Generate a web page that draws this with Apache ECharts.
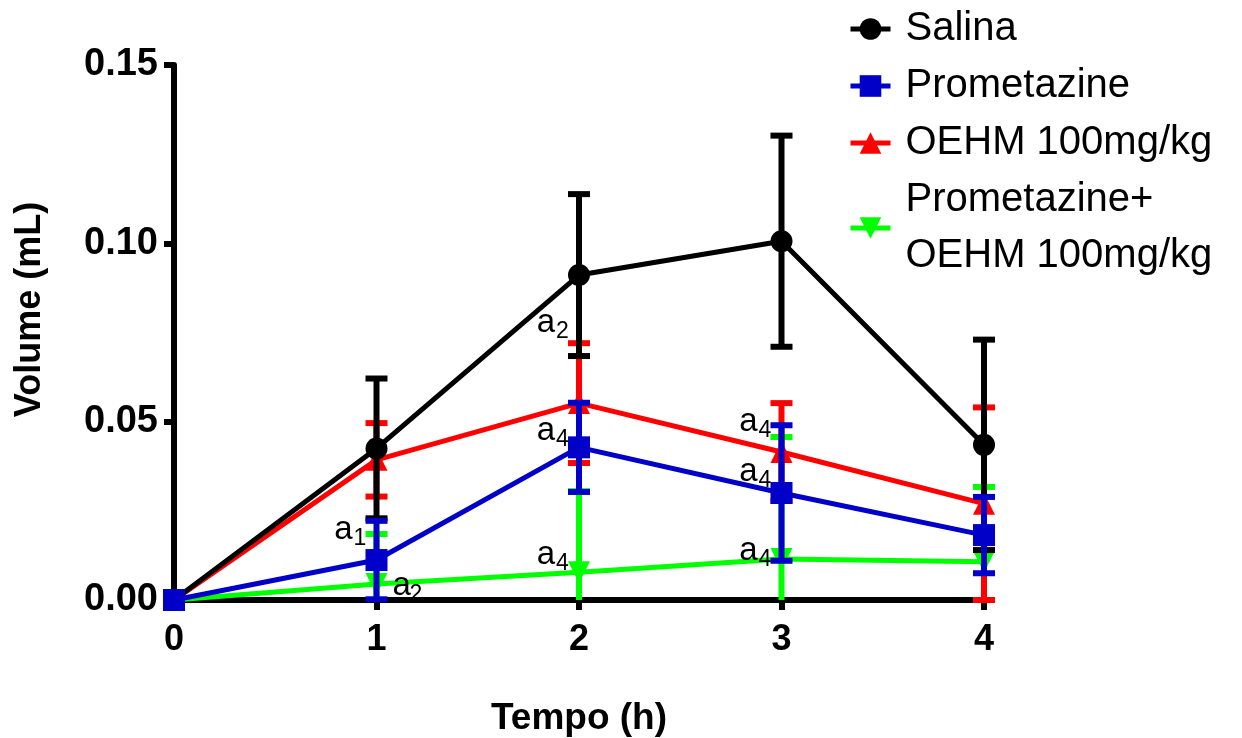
<!DOCTYPE html>
<html>
<head>
<meta charset="utf-8">
<script src="https://cdn.jsdelivr.net/npm/echarts@6/dist/echarts.min.js"></script>
<style>
  html, body { margin: 0; padding: 0; background: #fff; }
  #chart { width: 1242px; height: 738px; }
</style>
</head>
<body>
<div id="chart"></div>
<script>
// Time points (h)
const tempo = [0, 1, 2, 3, 4];

// Mean volume (mL) and SEM per group
const salina = [0, 0.0425, 0.0911, 0.1006, 0.0435];
const salinaSem = [0, 0.0196, 0.0227, 0.0296, 0.0295];

const prometazina = [0, 0.0112, 0.0428, 0.0300, 0.0182];
const prometazinaSem = [0, 0.0110, 0.0125, 0.0190, 0.0107];

const oehm = [0, 0.0393, 0.0552, 0.0415, 0.0270];
const oehmSem = [0, 0.0103, 0.0168, 0.0137, 0.0270];

const combo = [0, 0.0045, 0.0078, 0.0115, 0.0107];
const comboSem = [0, 0.0140, 0.0227, 0.0342, 0.0210];

// Axis ticks
const yTicks = [0, 0.05, 0.10, 0.15];
const xTicks = [0, 1, 2, 3, 4];

// Significance letters: x, y (mL), subscript, side of the bar
const annX = [1, 1, 2, 2, 2, 3, 3, 3];
const annY = [0.0196, 0.0039, 0.0777, 0.0474, 0.0126, 0.0499, 0.0359, 0.0137];
const annSub = ['1', '2', '2', '4', '4', '4', '4', '4'];
const annSide = ['left', 'right', 'left', 'left', 'left', 'left', 'left', 'left'];

const FONT = "'Liberation Sans', Arial, Helvetica, sans-serif";

const groups = [
  { name: 'Prometazine+\nOEHM 100mg/kg', mean: combo, sem: comboSem, color: '#00ff00', symbol: 'triangle', rotate: 180, z: 1 },
  { name: 'OEHM 100mg/kg', mean: oehm, sem: oehmSem, color: '#ff0000', symbol: 'triangle', rotate: 0, z: 3 },
  { name: 'Salina', mean: salina, sem: salinaSem, color: '#000000', symbol: 'circle', rotate: 0, z: 5 },
  { name: 'Prometazine', mean: prometazina, sem: prometazinaSem, color: '#0000c8', symbol: 'rect', rotate: 0, z: 7 }
];

function errorBarSeries(g) {
  const data = tempo.map((t, i) => [t, g.mean[i], g.sem[i]]);
  return {
    type: 'custom',
    name: g.name + ' SEM',
    z: g.z,
    clip: false,
    silent: true,
    data: data,
    renderItem: function (params, api) {
      const x = api.value(0), m = api.value(1), e = api.value(2);
      if (!e) return null;
      const hi = m + e;
      const lo = Math.max(0, m - e);
      const pHi = api.coord([x, hi]);
      const pLo = api.coord([x, lo]);
      const capW = 11;
      const st = { stroke: g.color, lineWidth: 6, fill: null };
      const children = [
        { type: 'line', shape: { x1: pHi[0], y1: pHi[1], x2: pLo[0], y2: pLo[1] }, style: st },
        { type: 'line', shape: { x1: pHi[0] - capW, y1: pHi[1], x2: pHi[0] + capW, y2: pHi[1] }, style: st }
      ];
      if (m - e >= -1e-9) {
        children.push({ type: 'line', shape: { x1: pLo[0] - capW, y1: pLo[1], x2: pLo[0] + capW, y2: pLo[1] }, style: st });
      }
      return { type: 'group', children: children };
    }
  };
}

function lineSeries(g) {
  return {
    type: 'line',
    name: g.name,
    z: g.z + 1,
    clip: false,
    data: tempo.map((t, i) => [t, g.mean[i]]),
    symbol: g.symbol,
    symbolSize: 22,
    symbolRotate: g.rotate,
    showAllSymbol: true,
    lineStyle: { color: g.color, width: 5 },
    itemStyle: { color: g.color, borderWidth: 0 },
    emphasis: { disabled: true },
    animation: false
  };
}

const annotationSeries = {
  type: 'custom',
  name: 'letters',
  z: 20,
  clip: false,
  silent: true,
  data: annX.map((x, i) => [x, annY[i], i]),
  renderItem: function (params, api) {
    const i = api.value(2);
    const p = api.coord([api.value(0), api.value(1)]);
    const right = annSide[i] === 'right';
    const aX = right ? p[0] + 16 : p[0] - 24;
    return {
      type: 'group',
      children: [
        { type: 'text', style: { text: 'a', x: aX, y: p[1], align: right ? 'left' : 'right', verticalAlign: 'middle', font: '33px ' + FONT, fill: '#000' } },
        { type: 'text', style: { text: annSub[i], x: right ? aX + 17 : aX + 1, y: p[1] + 9, align: 'left', verticalAlign: 'middle', font: '23px ' + FONT, fill: '#000' } }
      ]
    };
  }
};

const series = [];
groups.forEach(g => { series.push(errorBarSeries(g)); series.push(lineSeries(g)); });
series.push(annotationSeries);

const axisCommon = {
  axisLine: { show: true, lineStyle: { color: '#000', width: 6 } },
  axisTick: { show: true, length: 10, lineStyle: { color: '#000', width: 6 } },
  splitLine: { show: false }
};

const option = {
  backgroundColor: '#ffffff',
  animation: false,
  grid: { left: 174, right: 258, top: 65, bottom: 138, containLabel: false, outerBoundsMode: 'none' },
  legend: {
    data: ['Salina', 'Prometazine', 'OEHM 100mg/kg', 'Prometazine+\nOEHM 100mg/kg'],
    orient: 'vertical',
    left: 843,
    top: -4,
    itemWidth: 40,
    itemHeight: 27,
    itemGap: 1,
    selectedMode: false,
    lineStyle: { width: 5 },
    textStyle: { fontFamily: FONT, fontSize: 40, color: '#000', lineHeight: 56, padding: [0, 0, 0, 10] }
  },
  xAxis: Object.assign({
    type: 'value',
    min: xTicks[0],
    max: xTicks[xTicks.length - 1],
    interval: 1,
    name: 'Tempo (h)',
    nameLocation: 'middle',
    nameGap: 100,
    nameTextStyle: { fontFamily: FONT, fontWeight: 'bold', fontSize: 37, color: '#000' },
    axisLabel: { margin: 22, fontFamily: FONT, fontWeight: 'bold', fontSize: 36, color: '#000' }
  }, axisCommon),
  yAxis: Object.assign({
    type: 'value',
    min: yTicks[0],
    max: yTicks[yTicks.length - 1],
    interval: 0.05,
    name: 'Volume (mL)',
    nameLocation: 'middle',
    nameRotate: 90,
    nameGap: 126,
    nameTextStyle: { fontFamily: FONT, fontWeight: 'bold', fontSize: 36, color: '#000', padding: [0, 0, 0, 46] },
    axisLabel: { margin: 16, fontFamily: FONT, fontWeight: 'bold', fontSize: 38, color: '#000', formatter: v => v.toFixed(2) }
  }, axisCommon),
  series: series
};

const chart = echarts.init(document.getElementById('chart'), null, { renderer: 'canvas' });
chart.setOption(option);
</script>
</body>
</html>
